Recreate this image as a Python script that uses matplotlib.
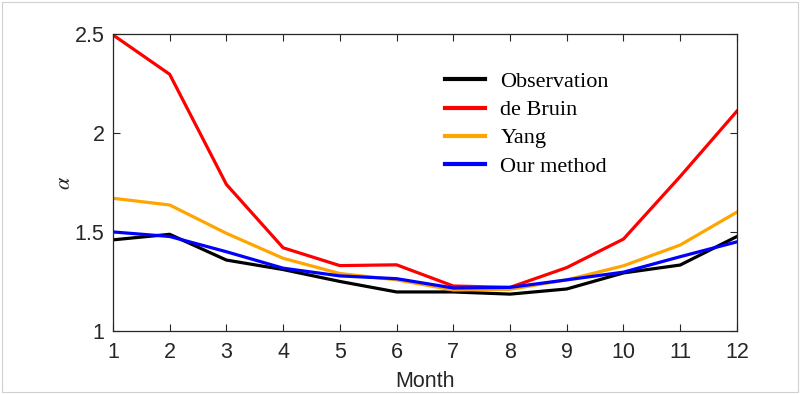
import matplotlib
matplotlib.use("Agg")
import matplotlib.pyplot as plt
from matplotlib.patches import Rectangle

months = [1, 2, 3, 4, 5, 6, 7, 8, 9, 10, 11, 12]
observation = [1.46, 1.488, 1.358, 1.31, 1.25, 1.197, 1.197, 1.186, 1.212, 1.293, 1.333, 1.477]
de_bruin = [2.495, 2.296, 1.74, 1.42, 1.33, 1.334, 1.227, 1.22, 1.32, 1.464, 1.78, 2.11]
yang = [1.67, 1.636, 1.493, 1.367, 1.29, 1.258, 1.207, 1.21, 1.258, 1.329, 1.434, 1.60]
our_method = [1.50, 1.477, 1.40, 1.317, 1.278, 1.264, 1.217, 1.22, 1.258, 1.297, 1.375, 1.45]
labels = ["Observation", "de Bruin", "Yang", "Our method"]
colors = ["#000000", "#ff0000", "#ffa500", "#0000ff"]
yticks = [1, 1.5, 2, 2.5]
yticklabels = ["1", "1.5", "2", "2.5"]

plt.rcParams['mathtext.fontset'] = 'stix'
fig = plt.figure(figsize=(8.01, 3.94), dpi=100)
ax = fig.add_axes([0.141, 0.160, 0.779, 0.754])

for series, lab, col in zip([observation, de_bruin, yang, our_method], labels, colors):
    ax.plot(months, series, color=col, lw=2.3, label=lab, solid_joinstyle='miter')

ax.set_xlim(1, 12)
ax.set_ylim(1, 2.5)
ax.set_xticks(months)
ax.set_xticklabels([str(m) for m in months], family='Liberation Sans', fontsize=15.5, color='#262626')
ax.set_yticks(yticks)
ax.set_yticklabels(yticklabels, family='Liberation Sans', fontsize=15.5, color='#262626')
ax.tick_params(axis='both', direction='in', top=True, right=True, length=5, width=0.8, color='#262626')
ax.tick_params(axis='x', pad=8)
ax.tick_params(axis='y', pad=6)
for sp in ax.spines.values():
    sp.set_color('#262626')
    sp.set_linewidth(0.9)
ax.set_xlabel("Month", family='Liberation Sans', fontsize=15.5, labelpad=6, color='#262626')
ax.set_ylabel(r"$\alpha$", fontsize=16, color='#262626', rotation=90)
ax.yaxis.set_label_coords(-0.062, 0.5)

leg = ax.legend(loc='upper left', bbox_to_anchor=(0.5, 0.94), frameon=False,
                prop={'family': 'Liberation Serif', 'size': 16},
                handlelength=1.8, handletextpad=0.7, labelspacing=0.34)
for l in leg.get_lines():
    l.set_linewidth(3)

fig.patches.append(Rectangle((0.002, 0.006), 0.994, 0.99, transform=fig.transFigure,
                             fill=False, edgecolor='#d0d0d0', lw=0.8))
fig.savefig("out.png", dpi=100)
